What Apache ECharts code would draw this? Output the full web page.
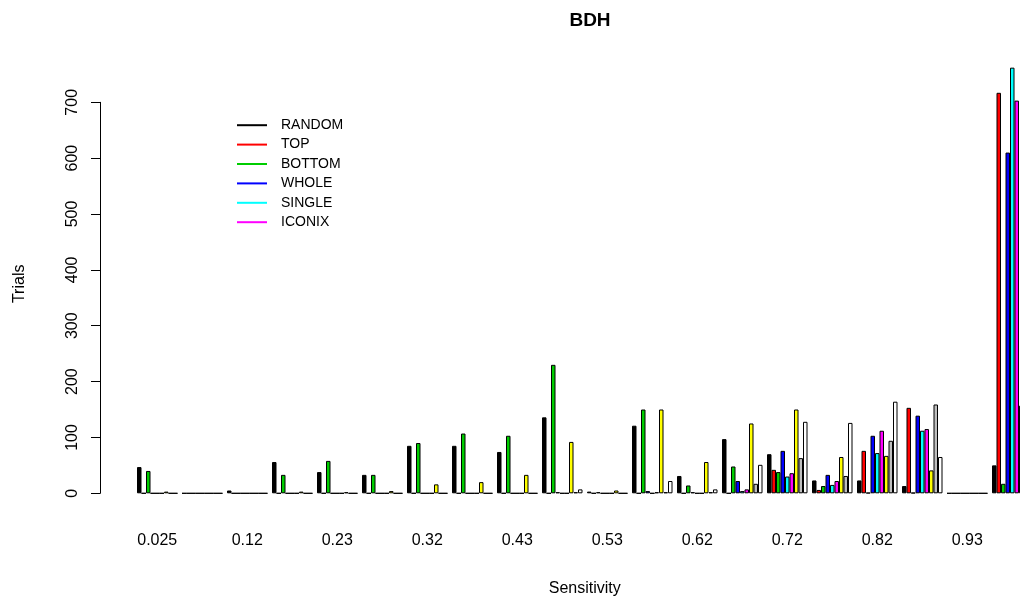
<!DOCTYPE html>
<html>
<head>
<meta charset="utf-8">
<script src="https://cdn.jsdelivr.net/npm/echarts@6/dist/echarts.min.js"></script>
<style>
  html, body { margin: 0; padding: 0; background: #fff; overflow: hidden; }
  /* the R plot region runs past the right edge of the picture, so the canvas is wider than the window */
  #chart { width: 1040px; height: 600px; }
</style>
</head>
<body>
<div id="chart"></div>
<script>
const categories = ['0.025', '0.075', '0.12', '0.18', '0.23', '0.28', '0.32', '0.38', '0.43', '0.48',
  '0.53', '0.58', '0.62', '0.68', '0.72', '0.78', '0.82', '0.88', '0.93', '0.98']

const randomVals = [47, 0, 5, 56, 38, 33, 85, 85, 74, 136, 3, 121, 31, 97, 70, 23, 23, 13, 0, 50]
const topVals = [0, 0, 0, 0, 0, 0, 0, 0, 0, 0, 0, 0, 0, 0, 42, 6, 76, 153, 0, 717]
const bottomVals = [40, 0, 0, 33, 58, 33, 90, 107, 103, 230, 2, 150, 14, 48, 38, 13, 1, 1, 0, 17]
const wholeVals = [0, 0, 0, 0, 0, 0, 0, 0, 0, 2, 0, 4, 2, 22, 76, 33, 103, 139, 0, 610]
const singleVals = [0, 0, 0, 0, 0, 0, 0, 0, 0, 0, 0, 0, 0, 4, 30, 15, 72, 112, 0, 762]
const iconixVals = [0, 0, 0, 0, 0, 0, 0, 0, 0, 0, 0, 2, 0, 7, 36, 22, 112, 115, 0, 703]
const yellowVals = [3, 0, 0, 3, 2, 4, 16, 20, 33, 92, 5, 150, 56, 125, 150, 65, 67, 41, 0, 157]
const grayVals = [0, 0, 0, 0, 0, 0, 0, 0, 0, 2, 0, 2, 2, 17, 63, 31, 94, 159, 0, 0]
const whiteVals = [0, 0, 0, 0, 0, 0, 0, 0, 0, 7, 0, 22, 7, 51, 128, 126, 164, 65, 0, 0]

const legendNames = ['RANDOM', 'TOP', 'BOTTOM', 'WHOLE', 'SINGLE', 'ICONIX']

const font = '"Liberation Sans", Arial, Helvetica, sans-serif'

const chart = echarts.init(document.getElementById('chart'))

function barSeries(name, data, color) {
  return {
    name,
    type: 'bar',
    data,
    barWidth: 4.5,
    barGap: '0%',
    clip: false,
    animation: false,
    itemStyle: { color, borderColor: '#000', borderWidth: 1 }
  }
}

const option = {
  animation: false,
  backgroundColor: '#fff',
  textStyle: { fontFamily: font },
  title: {
    text: 'BDH',
    left: 585,
    top: 6,
    textAlign: 'center',
    textStyle: { fontFamily: font, fontSize: 19, fontWeight: 'bold', color: '#000' }
  },
  legend: {
    data: legendNames,
    orient: 'vertical',
    left: 232,
    top: 113,
    itemWidth: 30,
    itemHeight: 2,
    itemGap: 5,
    icon: 'rect',
    itemStyle: { borderWidth: 0 },
    textStyle: { fontFamily: font, fontSize: 14, color: '#000', lineHeight: 14.4, padding: [0, 0, 0, 9] }
  },
  grid: { left: 134.75, top: 102.3, width: 900, height: 391, outerBoundsMode: 'none', containLabel: false },
  xAxis: {
    type: 'category',
    data: categories,
    axisLine: { show: false },
    axisTick: { show: false },
    axisLabel: { interval: 1, margin: 39, fontSize: 16, color: '#000', fontFamily: font },
    name: 'Sensitivity',
    nameLocation: 'middle',
    nameGap: 87,
    nameTextStyle: { fontSize: 16, color: '#000', fontFamily: font }
  },
  yAxis: {
    type: 'value',
    min: 0,
    max: 700,
    interval: 100,
    offset: 34.75,
    splitLine: { show: false },
    axisLine: { show: true, lineStyle: { color: '#000', width: 1 } },
    axisTick: { show: true, length: 9, lineStyle: { color: '#000' } },
    axisLabel: { rotate: 90, margin: 19, fontSize: 16, color: '#000', fontFamily: font },
    name: 'Trials',
    nameLocation: 'middle',
    nameGap: 72,
    nameTextStyle: { fontSize: 16, color: '#000', fontFamily: font, padding: [0, 0, 0, 28] }
  },
  series: [
    barSeries('RANDOM', randomVals, '#000000'),
    barSeries('TOP', topVals, '#ff0000'),
    barSeries('BOTTOM', bottomVals, '#00cd00'),
    barSeries('WHOLE', wholeVals, '#0000ff'),
    barSeries('SINGLE', singleVals, '#00ffff'),
    barSeries('ICONIX', iconixVals, '#ff00ff'),
    barSeries('yellow', yellowVals, '#ffff00'),
    barSeries('gray', grayVals, '#bebebe'),
    barSeries('white', whiteVals, '#ffffff')
  ]
}

chart.setOption(option)
</script>
</body>
</html>
